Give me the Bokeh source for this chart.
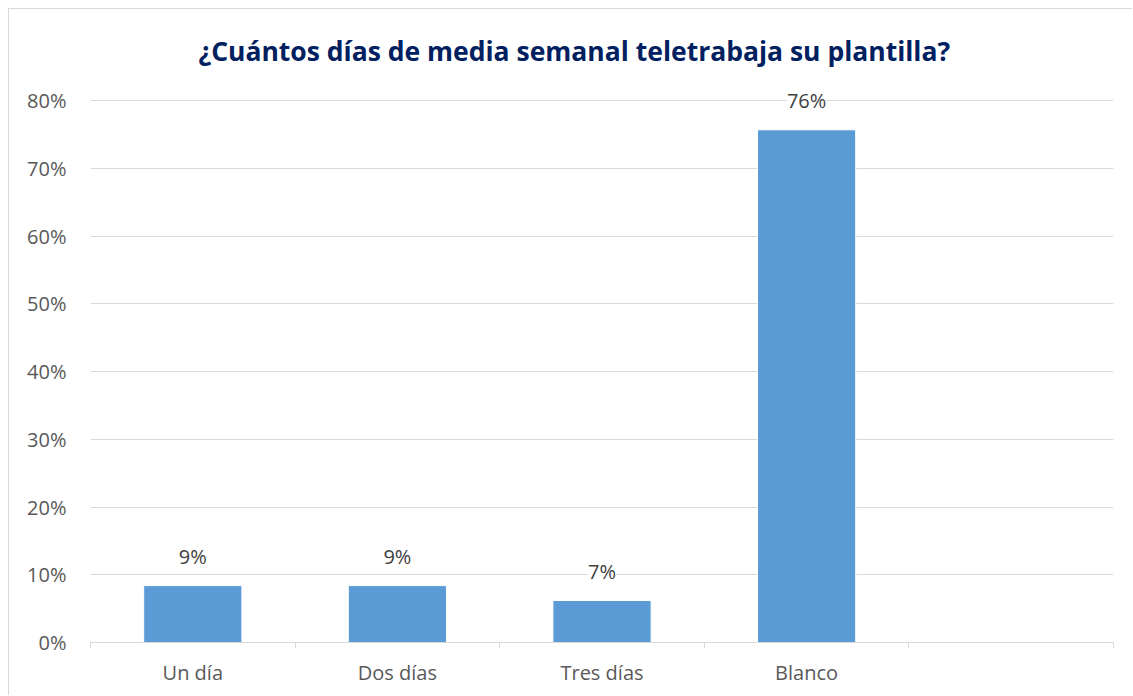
from bokeh.plotting import figure
from bokeh.models import ColumnDataSource, Range1d, FixedTicker, NumeralTickFormatter, LabelSet
from bokeh.core.properties import value
from bokeh.embed import file_html
from bokeh.resources import INLINE
import numpy as np

categories = ["Un día", "Dos días", "Tres días", "Blanco", ""]
values = [0.084, 0.084, 0.062, 0.757]
labels = ["9%", "9%", "7%", "76%"]
y_ticks = [0, 0.1, 0.2, 0.3, 0.4, 0.5, 0.6, 0.7, 0.8]

n = len(categories)
xs = np.arange(len(values)) + 0.5
src = ColumnDataSource(dict(x=xs, top=values, label=labels))

FONT = "Open Sans"

p = figure(width=1124, height=687, output_backend="svg", toolbar_location=None,
           x_range=Range1d(0, n), y_range=Range1d(0, 0.815),
           min_border_left=81, min_border_right=20, min_border_top=81, min_border_bottom=54)
p.styles = {"margin-left": "8px", "margin-top": "8px",
            "border-left": "1px solid #d9d9d9", "border-top": "1px solid #d9d9d9"}
p.outline_line_color = None
p.background_fill_color = "white"

p.title.text = "¿Cuántos días de media semanal teletrabaja su plantilla?"
p.title.align = "left"
p.title.offset = 108
p.title.text_font = FONT
p.title.text_font_size = "26.5px"
p.title.text_font_style = "bold"
p.title.text_color = "#002060"
p.title.standoff = 43

p.vbar(x="x", top="top", width=0.48, source=src, fill_color="#5B9BD5", line_color="white", line_width=1)
lbl = LabelSet(x="x", y="top", text="label", source=src, text_align="center", text_baseline="bottom",
               y_offset=16, text_font=value(FONT), text_font_size=value("20px"), text_color="#404040",
               background_fill_color="white")
p.add_layout(lbl)

# x axis
xa = p.xaxis[0]
xa.ticker = FixedTicker(ticks=list(np.arange(n) + 0.5), minor_ticks=list(range(n + 1)))
xa.major_label_overrides = {float(i + 0.5): c for i, c in enumerate(categories)}
xa.major_tick_out = 0
xa.major_tick_in = 0
xa.minor_tick_out = 6
xa.minor_tick_in = 0
xa.minor_tick_line_color = "#d9d9d9"
xa.axis_line_color = "#d9d9d9"
xa.major_label_text_font = FONT
xa.major_label_text_font_size = "20px"
xa.major_label_text_color = "#595959"
xa.major_label_standoff = 10

# y axis
ya = p.yaxis[0]
ya.ticker = FixedTicker(ticks=y_ticks)
ya.formatter = NumeralTickFormatter(format="0%")
ya.axis_line_color = None
ya.major_tick_line_color = None
ya.minor_tick_line_color = None
ya.major_label_text_font = FONT
ya.major_label_text_font_size = "20px"
ya.major_label_text_color = "#595959"
ya.major_label_standoff = 18

p.xgrid.grid_line_color = None
p.ygrid.grid_line_color = "#d9d9d9"
p.ygrid.grid_line_width = 1

open("out.html", "w").write(file_html(p, INLINE))
